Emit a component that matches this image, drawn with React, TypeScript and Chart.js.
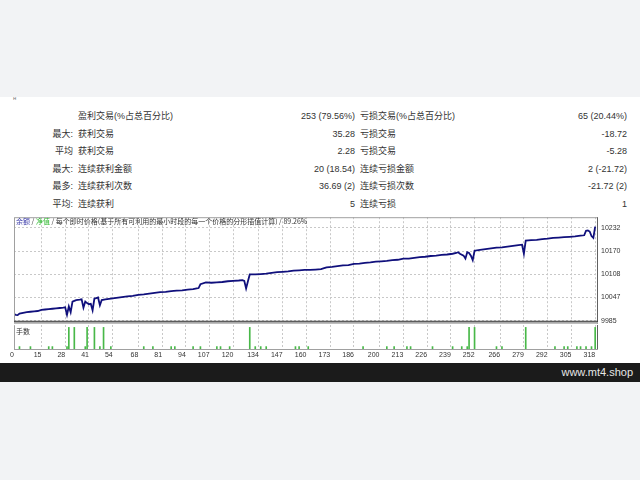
import React, { useEffect, useRef } from "react";
import { Chart, registerables } from "chart.js";

Chart.register(...registerables);

// ---- Balance curve (trade number -> balance) ----
const tradeIdx = [
  0, 1, 2, 3, 5, 7, 9, 11, 13, 15, 17, 19, 21, 23, 25, 27, 28, 29, 30, 31, 32, 33, 34, 36, 37, 38, 39, 40, 41, 42, 43, 44, 45, 46, 47, 48, 50,
  53, 56, 59, 62, 65, 68, 71, 74, 77, 80, 83, 86, 89, 92, 95, 98, 100, 101, 102, 105, 108, 111, 114, 117, 120, 123, 125, 126, 127, 128, 129,
  132, 135, 138, 141, 144, 147, 150, 153, 156, 159, 162, 165, 168, 171, 174, 177, 180, 183, 186, 189, 192, 195, 198, 201, 204, 207, 210, 213,
  216, 219, 222, 225, 228, 231, 234, 237, 240, 242, 243, 244, 246, 247, 248, 249, 250, 251, 252, 255, 258, 261, 264, 267, 270, 273, 276, 278,
  279, 280, 283, 286, 289, 292, 295, 298, 301, 304, 307, 310, 312, 313, 314, 315, 316, 317, 318,
];
const balance = [
  10003, 10001, 10000, 10004, 10006, 10008, 10009, 10010, 10011, 10014, 10015, 10016, 10017, 10018, 10019, 10020, 10021, 10001, 10023, 10008,
  10036, 10038, 10040, 10041, 10042, 10020, 10036, 10032, 10029, 10030, 10013, 10044, 10045, 10047, 10026, 10040, 10042,
  10044, 10046, 10048, 10050, 10051, 10054, 10055, 10057, 10059, 10061, 10062, 10064, 10065, 10066, 10068, 10069, 10071, 10072, 10082, 10087,
  10086, 10087, 10088, 10090, 10091, 10092, 10093, 10091, 10071, 10090, 10108,
  10108, 10109, 10110, 10112, 10114, 10115, 10116, 10118, 10119, 10120, 10120, 10121, 10122, 10127, 10128, 10130, 10132, 10133, 10136, 10137,
  10139, 10140, 10142, 10143, 10144, 10146, 10147, 10150, 10150, 10152, 10154, 10155, 10157, 10158, 10160, 10161, 10163, 10165, 10167, 10163,
  10158, 10150, 10167, 10165, 10158, 10146, 10171, 10173, 10175, 10177, 10179, 10180, 10182, 10184, 10186, 10187,
  10163, 10198, 10199, 10200, 10202, 10203, 10205, 10206, 10207, 10208, 10209, 10211, 10212, 10224, 10225, 10222, 10210, 10205, 10235,
];

// ---- Lots per trade (lower panel) ----
const lotTrades = [
  3, 9, 19, 21, 29, 30, 33, 39, 40, 44, 47, 49, 53, 71, 76, 86, 88, 98, 102, 111, 113, 118, 129, 132, 135, 138, 154, 156, 161, 191, 204, 208,
  215, 217, 229, 240, 245, 248, 249, 252, 264, 267, 280, 296, 301, 303, 308, 310, 313, 316, 318,
];
const lotSizes = [
  0.01, 0.01, 0.01, 0.01, 0.01, 0.09, 0.09, 0.01, 0.09, 0.09, 0.01, 0.09, 0.01, 0.01, 0.01, 0.01, 0.01, 0.01, 0.01, 0.01, 0.01, 0.01, 0.09,
  0.01, 0.01, 0.01, 0.01, 0.01, 0.01, 0.01, 0.01, 0.01, 0.01, 0.01, 0.01, 0.01, 0.01, 0.01, 0.09, 0.09, 0.01, 0.01, 0.09, 0.01, 0.01, 0.01,
  0.01, 0.01, 0.01, 0.01, 0.09,
];

// ---- Axis ticks ----
const xTicks = [0, 15, 28, 41, 54, 68, 81, 94, 107, 120, 134, 147, 160, 173, 186, 200, 213, 226, 239, 252, 266, 279, 292, 305, 318];
const yTicks = [9985, 10047, 10108, 10170, 10232];

// ---- Statistics table ----
const statPrefix = ["", "最大:", "平均", "最大:", "最多:", "平均:"];
const statLabelL = ["盈利交易(%占总百分比)", "获利交易", "获利交易", "连续获利金额", "连续获利次数", "连续获利"];
const statValueL = ["253 (79.56%)", "35.28", "2.28", "20 (18.54)", "36.69 (2)", "5"];
const statLabelR = ["亏损交易(%占总百分比)", "亏损交易", "亏损交易", "连续亏损金额", "连续亏损次数", "连续亏损"];
const statValueR = ["65 (20.44%)", "-18.72", "-5.28", "2 (-21.72)", "-21.72 (2)", "1"];

const TICK_FONT = { family: "Liberation Sans", size: 7 };
const GRID = "#c8c8c8";

const framePlugin = (double: boolean) => ({
  id: "frame",
  afterDraw(chart: any) {
    const { ctx, chartArea: a } = chart;
    ctx.save();
    ctx.lineWidth = 1;
    ctx.strokeStyle = "#a0a0a0";
    ctx.beginPath();
    ctx.moveTo(a.left + 0.5, a.bottom + 1);
    ctx.lineTo(a.left + 0.5, a.top + 0.5);
    if (double) ctx.lineTo(a.right + 0.5, a.top + 0.5);
    ctx.stroke();
    ctx.strokeStyle = "#606060";
    ctx.beginPath();
    ctx.moveTo(a.right + 0.5, a.top);
    ctx.lineTo(a.right + 0.5, a.bottom + (double ? 3 : 1));
    ctx.stroke();
    if (double) {
      ctx.strokeStyle = "#111";
      ctx.beginPath();
      ctx.moveTo(a.left, a.bottom + 0.5);
      ctx.lineTo(a.right + 1, a.bottom + 0.5);
      ctx.stroke();
      ctx.strokeStyle = "#a8a8a8";
      ctx.lineWidth = 2;
      ctx.beginPath();
      ctx.moveTo(a.left, a.bottom + 2);
      ctx.lineTo(a.right + 1, a.bottom + 2);
      ctx.stroke();
    } else {
      ctx.strokeStyle = "#a0a0a0";
      ctx.beginPath();
      ctx.moveTo(a.left, a.bottom + 0.5);
      ctx.lineTo(a.right + 1, a.bottom + 0.5);
      ctx.stroke();
    }
    ctx.restore();
  },
});

export default function App() {
  const lineRef = useRef<HTMLCanvasElement>(null);
  const barRef = useRef<HTMLCanvasElement>(null);

  useEffect(() => {
    const lineChart = new Chart(lineRef.current!, {
      type: "line",
      data: {
        datasets: [
          {
            data: tradeIdx.map((x, i) => ({ x, y: balance[i] })),
            borderColor: "#10107c",
            borderWidth: 1.8,
            pointRadius: 0,
            tension: 0,
            fill: false,
          },
        ],
      },
      options: {
        responsive: false,
        animation: false,
        events: [],
        layout: { padding: { left: 14, top: 6, right: 0, bottom: 6 } },
        plugins: { legend: { display: false }, tooltip: { enabled: false } },
        scales: {
          x: {
            type: "linear",
            min: 0,
            max: 319,
            afterBuildTicks: (s: any) => {
              s.ticks = xTicks.map((v) => ({ value: v }));
            },
            afterFit: (s: any) => {
              s.height = 0;
            },
            ticks: { display: false },
            grid: { color: GRID, lineWidth: 1, drawTicks: false },
            border: { display: false, dash: [2, 2] },
          },
          y: {
            type: "linear",
            position: "right",
            min: 9985,
            max: 10260,
            afterBuildTicks: (s: any) => {
              s.ticks = yTicks.map((v) => ({ value: v }));
            },
            afterFit: (s: any) => {
              s.width = 43;
            },
            ticks: { padding: 4, color: "#333", font: TICK_FONT, callback: (v: any) => String(v) },
            grid: { color: GRID, lineWidth: 1, drawTicks: false },
            border: { display: false, dash: [2, 2] },
          },
        },
      },
      plugins: [framePlugin(true)],
    } as any);

    const barChart = new Chart(barRef.current!, {
      type: "bar",
      data: {
        datasets: [
          {
            data: lotTrades.map((x, i) => ({ x, y: lotSizes[i] })),
            backgroundColor: "#48b848",
            borderWidth: 0,
            barThickness: 1,
          },
        ],
      },
      options: {
        responsive: false,
        animation: false,
        events: [],
        layout: { padding: { left: 14, top: 5, right: 0, bottom: 0 } },
        plugins: { legend: { display: false }, tooltip: { enabled: false } },
        scales: {
          x: {
            type: "linear",
            min: 0,
            max: 319,
            offset: false,
            afterBuildTicks: (s: any) => {
              s.ticks = xTicks.map((v) => ({ value: v }));
            },
            afterFit: (s: any) => {
              s.height = 13;
            },
            ticks: {
              align: "end",
              padding: 2,
              color: "#333",
              font: TICK_FONT,
              autoSkip: false,
              maxRotation: 0,
              callback: (v: any) => String(v),
            },
            grid: { color: GRID, lineWidth: 1, drawTicks: false, offset: false },
            border: { display: false, dash: [2, 2] },
          },
          y: {
            type: "linear",
            position: "right",
            min: 0,
            max: 0.1,
            afterFit: (s: any) => {
              s.width = 43;
            },
            ticks: { display: false },
            grid: { display: false },
            border: { display: false },
          },
        },
      },
      plugins: [framePlugin(false)],
    } as any);

    return () => {
      lineChart.destroy();
      barChart.destroy();
    };
  }, []);

  const cjk = '"Liberation Sans", "Noto Sans CJK SC", sans-serif';
  const textColor = "#333";

  return (
    <div
      style={{
        position: "fixed",
        left: 0,
        top: 0,
        width: 640,
        height: 480,
        background: "#f2f3f5",
        overflow: "hidden",
        fontFamily: cjk,
      }}
    >
      <div style={{ position: "absolute", left: 0, top: 97, width: 640, height: 266, background: "#fff" }} />
      <div style={{ position: "absolute", left: 13, top: 95, fontSize: 6, color: "#777" }}>н</div>

      {statPrefix.map((p, i) => {
        const top = 116 + i * 17.5 - 7;
        const row = { position: "absolute" as const, top, height: 14, lineHeight: "14px", fontSize: 9, color: textColor, whiteSpace: "nowrap" as const };
        return (
          <React.Fragment key={i}>
            <div style={{ ...row, left: 0, width: 73, textAlign: "right" }}>{p}</div>
            <div style={{ ...row, left: 78 }}>{statLabelL[i]}</div>
            <div style={{ ...row, left: 200, width: 155, textAlign: "right" }}>{statValueL[i]}</div>
            <div style={{ ...row, left: 360 }}>{statLabelR[i]}</div>
            <div style={{ ...row, left: 427, width: 200, textAlign: "right" }}>{statValueR[i]}</div>
          </React.Fragment>
        );
      })}

      <canvas ref={lineRef} width={640} height={120} style={{ position: "absolute", left: 0, top: 209, width: 640, height: 120 }} />
      <canvas ref={barRef} width={640} height={42} style={{ position: "absolute", left: 0, top: 320, width: 640, height: 42 }} />

      <div
        style={{
          position: "absolute",
          left: 16,
          top: 216,
          height: 11,
          lineHeight: "11px",
          fontSize: 7,
          color: "#333",
          whiteSpace: "nowrap",
          fontFamily: '"Noto Sans CJK SC", sans-serif',
        }}
      >
        <span style={{ color: "#3a3aa8" }}>余额</span> / <span style={{ color: "#2eb82e" }}>净值</span> /
        每个即时价格(基于所有可利用的最小时段的每一个价格的分形插值计算) / 89.26%
      </div>
      <div
        style={{
          position: "absolute",
          left: 16,
          top: 326,
          height: 10,
          lineHeight: "10px",
          fontSize: 7,
          color: "#333",
          fontFamily: '"Noto Sans CJK SC", sans-serif',
        }}
      >
        手数
      </div>

      <div
        style={{
          position: "absolute",
          left: 0,
          top: 363,
          width: 640,
          height: 19,
          background: "#1b1b1b",
        }}
      >
        <div
          style={{
            position: "absolute",
            right: 7,
            top: 0,
            height: 19,
            lineHeight: "19px",
            fontSize: 11,
            color: "#e6e6e6",
            fontFamily: '"Liberation Sans", sans-serif',
          }}
        >
          www.mt4.shop
        </div>
      </div>
    </div>
  );
}
